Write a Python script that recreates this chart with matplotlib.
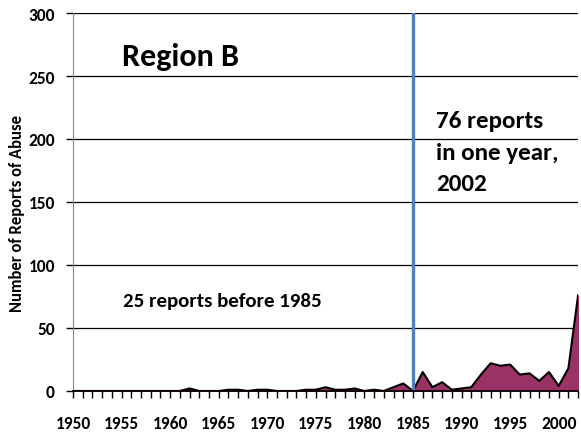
import matplotlib
matplotlib.use("Agg")
import matplotlib.pyplot as plt
from matplotlib.ticker import MultipleLocator

years = list(range(1950, 2003))
reports = [0, 0, 0, 0, 0, 0, 0, 0, 0, 0,   # 1950-1959
           0, 0, 2, 0, 0, 0, 1, 1, 0, 1,   # 1960-1969
           1, 0, 0, 0, 1, 1, 3, 1, 1, 2,   # 1970-1979
           0, 1, 0, 3, 6, 0, 15, 3, 7, 1,  # 1980-1989
           2, 3, 13, 22, 20, 21, 13, 14, 8, 15,  # 1990-1999
           4, 18, 76]                      # 2000-2002
tick_years = list(range(1950, 2001, 5))
yticks = [0, 50, 100, 150, 200, 250, 300]
marker_year = 1985
note_lines = ['76 reports', 'in one year,', '2002']

plt.rcParams['font.family'] = ['Carlito', 'DejaVu Sans']
fig = plt.figure(figsize=(5.81, 4.35), dpi=100)
ax = fig.add_axes([0.1256, 0.0989, 0.8694, 0.8689])

ax.fill_between(years, reports, 0, color='#993366', zorder=3)
ax.plot(years, reports, color='black', lw=1.5, zorder=4)
ax.axvline(marker_year, color='#4f81bd', lw=2.4, zorder=5)

ax.set_xlim(1950, 2002)
ax.set_ylim(0, 300)
ax.set_yticks(yticks)
ax.set_xticks(tick_years)
ax.xaxis.set_minor_locator(MultipleLocator(1))
for y in yticks[1:]:
    ax.axhline(y, color='black', lw=0.9, zorder=1)

for s in ['top', 'right']:
    ax.spines[s].set_visible(False)
ax.spines['left'].set_color('#888888')
ax.spines['bottom'].set_color('black')
ax.spines['bottom'].set_linewidth(1.2)
ax.spines['bottom'].set_zorder(6)

ax.tick_params(axis='x', which='both', direction='out', length=5, width=1, color='black', pad=12)
ax.tick_params(axis='x', which='major', labelsize=12.5)
ax.tick_params(axis='y', direction='out', length=5, width=1, color='black', labelsize=12.5, pad=8)
for lab in ax.get_xticklabels() + ax.get_yticklabels():
    lab.set_fontweight('bold')

fig.text(17 / 581, 1 - 214 / 435, 'Number of Reports of Abuse', fontsize=12, fontweight='bold',
         rotation=90, ha='center', va='center')

ax.text(1955.0, 259, 'Region B', fontsize=23, fontweight='bold', va='baseline', ha='left')
ax.text(1955.1, 67.7, '25 reports before 1985', fontsize=15, fontweight='bold', va='baseline', ha='left')
for line, yv in zip(note_lines, [209.5, 184, 159.5]):
    ax.text(1987.4, yv, line, fontsize=18, fontweight='bold', va='baseline', ha='left')

fig.savefig('out.png', dpi=100)
